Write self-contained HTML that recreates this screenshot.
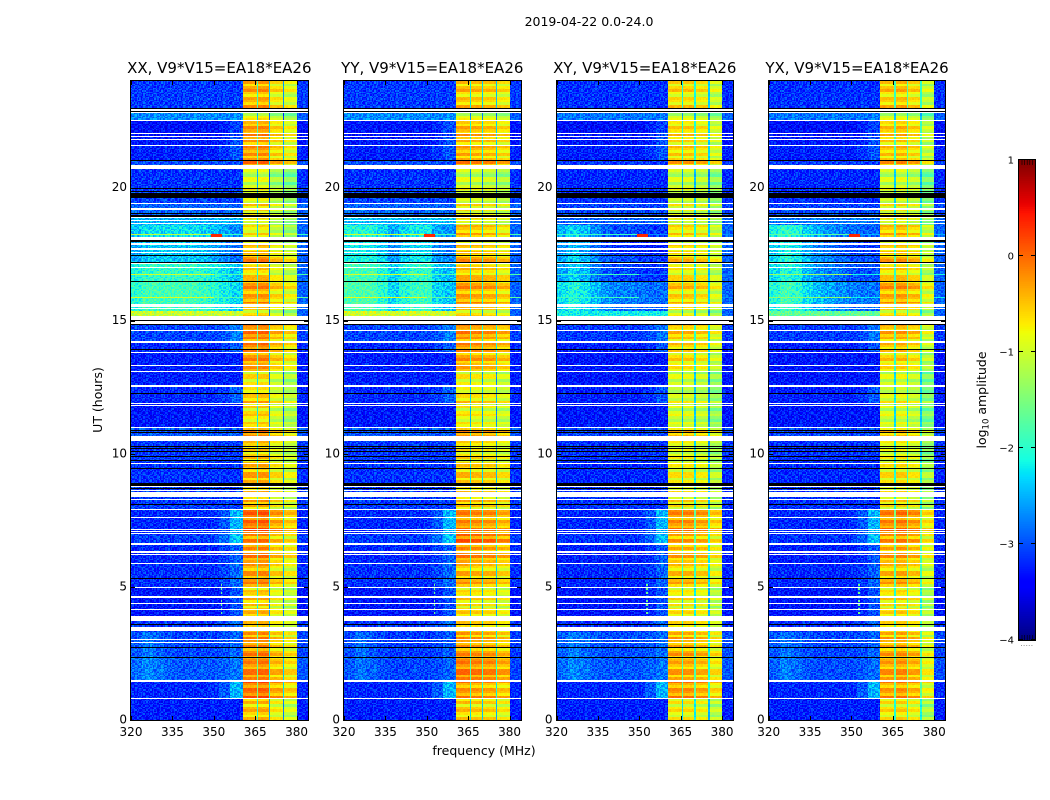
<!DOCTYPE html>
<html><head><meta charset="utf-8"><title>2019-04-22 amplitude waterfall</title>
<style>html,body{margin:0;padding:0;background:#fff}svg{display:block}text{font-family:"DejaVu Sans","Liberation Sans",sans-serif;fill:#000}</style>
</head><body>
<svg id="fig" xmlns="http://www.w3.org/2000/svg" width="1050" height="800" viewBox="0 0 1050 800">
<text x="589" y="26" font-size="12.5" text-anchor="middle">2019-04-22 0.0-24.0</text>
<text x="484" y="755" font-size="12.5" text-anchor="middle">frequency (MHz)</text>
<text x="102" y="400" font-size="12.5" text-anchor="middle" transform="rotate(-90 102 400)">UT (hours)</text>
<text x="986" y="400" font-size="12.5" text-anchor="middle" transform="rotate(-90 986 400)">log<tspan font-size="8.5" dy="2.5">10</tspan><tspan dy="-2.5"> amplitude</tspan></text>
</svg>
<script>
// ---- data (UT hours, MHz, log10 amplitude) ----
const freqTicks = [320, 335, 350, 365, 380];
const utTicks = [0, 5, 10, 15, 20];
const colorbarTicks = [1, 0, -1, -2, -3, -4];
const colorbarMinor = [-3.98, -3.94, -3.9, -3.86, -3.82];
const panelTitles = ['XX, V9*V15=EA18*EA26', 'YY, V9*V15=EA18*EA26', 'XY, V9*V15=EA18*EA26', 'YX, V9*V15=EA18*EA26'];

const blockEdges = [24, 23, 22.5, 22.05, 21.55, 21, 20.7, 19.95, 19.4, 18.9, 18.6, 18.15, 17.5, 17.2, 16.5, 15.65, 15.35, 15, 14.85, 14.25, 13.8, 13.1, 12.5, 11.85, 11, 10.5, 9.7, 8.9, 7.9, 7, 6.6, 5.9, 5, 3.9, 3.3, 2.4, 1.45, 0.8, 0];
const blockShape = [0, 0, 1, 1, 1, 0, 0, 0, 0, 0, 2, 2, 2, 2, 2, 2, 0, 0, 1, 1, 0, 0, 1, 0, 0, 0, 0, 0, 4, 4, 1, 1, 1, 1, 3, 3, 4, 0];

const lowXX = [-3.1, -2.7, -3.35, -3.3, -3.25, -3.0, -3.15, -3.05, -2.9, -2.5, -2.25, -2.4, -2.4, -1.95, -1.85, -1.9, -1.05, -3, -3.05, -3.2, -3.25, -3.25, -3.2, -3.3, -2.95, -3.1, -3.15, -3.1, -3.2, -3.1, -3.2, -3.15, -3.3, -3.1, -3.05, -2.95, -3.2, -3.25];
const lowYY = [-3.1, -2.7, -3.3, -3.3, -3.25, -3.0, -3.15, -3.05, -2.9, -2.45, -2.05, -2.2, -2.1, -1.85, -1.8, -1.8, -1.0, -3, -3.05, -3.2, -3.25, -3.25, -3.2, -3.3, -2.95, -3.1, -3.15, -3.1, -3.2, -3.1, -3.2, -3.15, -3.3, -3.1, -3.1, -3.05, -3.2, -3.25];
const lowXY = [-3.15, -2.8, -3.35, -3.3, -3.25, -3.1, -3.2, -3.15, -3.05, -2.9, -2.7, -2.85, -2.7, -2.75, -2.45, -2.5, -2.15, -3, -3.1, -3.25, -3.3, -3.3, -3.25, -3.3, -3.05, -3.15, -3.2, -3.15, -3.2, -3.15, -3.25, -3.2, -3.3, -3.15, -3.0, -2.95, -3.2, -3.25];
const lowYX = [-3.15, -2.8, -3.35, -3.3, -3.25, -3.1, -3.2, -3.15, -3.05, -2.8, -2.5, -2.7, -2.6, -2.6, -2.4, -2.45, -1.65, -3, -3.1, -3.25, -3.3, -3.3, -3.25, -3.3, -3.05, -3.15, -3.2, -3.15, -3.2, -3.15, -3.25, -3.2, -3.3, -3.15, -3.05, -3.0, -3.2, -3.25];

const highXX = [-0.45, -0.9, -0.35, -0.35, -0.35, -0.25, -1.0, -0.85, -0.7, -0.85, -0.8, -0.6, -0.35, -0.6, -0.35, -0.7, -0.75, -0.5, -0.25, -0.25, -0.35, -0.75, -0.55, -0.7, -0.3, -0.65, -0.45, -0.5, -0.1, -0.25, -0.3, -0.35, -0.6, -0.4, -0.3, -0.2, -0.1, -0.55];
const highYY = [-0.55, -0.95, -0.45, -0.45, -0.45, -0.3, -1.0, -0.9, -0.75, -0.75, -0.5, -0.55, -0.4, -0.5, -0.35, -0.6, -0.7, -0.5, -0.3, -0.3, -0.4, -0.8, -0.65, -0.8, -0.35, -0.75, -0.55, -0.55, -0.25, -0.05, -0.3, -0.45, -0.7, -0.45, -0.35, -0.15, -0.3, -0.6];
const highXY = [-0.7, -1.05, -0.65, -0.65, -0.65, -0.5, -1.05, -1.0, -0.9, -0.9, -0.7, -0.75, -0.6, -0.75, -0.6, -0.85, -0.95, -0.7, -0.6, -0.65, -0.75, -1.0, -0.95, -1.0, -0.55, -0.95, -0.8, -0.75, -0.3, -0.4, -0.5, -0.55, -0.8, -0.55, -0.45, -0.4, -0.3, -0.8];
const highYX = [-0.6, -1.05, -0.55, -0.6, -0.6, -0.45, -1.05, -1.0, -0.85, -0.85, -0.55, -0.65, -0.5, -0.65, -0.4, -0.75, -0.8, -0.7, -0.5, -0.6, -0.7, -1.0, -0.9, -1.0, -0.6, -0.95, -0.75, -0.75, -0.25, -0.3, -0.45, -0.5, -0.75, -0.55, -0.45, -0.35, -0.35, -0.75];

// low-band spectral shape: offsets in 4 MHz bins from 320 to 360 MHz
const shapeFlat = [0, 0, 0, 0, 0, 0, 0, 0, 0, 0];
const shapeEdge = [0, 0, 0, 0, 0, 0, 0, 0, 0.1, 0.3];
const shapeStrongEdge = [0, 0, 0, 0, 0, 0, 0, 0.05, 0.25, 0.7];
const shapeLeft = [0.1, 0.25, 0.15, 0.05, 0, 0, 0, 0, 0.05, 0.15];
const dayXX = [-0.15, 0, 0, 0, 0, 0, -0.05, -0.15, -0.3, -0.45];
const dayYY = [0, 0, 0, -0.2, -0.5, -0.25, -0.1, -0.1, -0.5, -0.6];
const dayXY = [0.2, 0.4, 0.25, 0, -0.2, -0.3, -0.3, -0.35, -0.4, -0.4];
const dayYX = [0.35, 0.55, 0.45, 0.15, -0.05, -0.15, -0.25, -0.35, -0.4, -0.4];

// high-band channel offsets: edges in MHz and offset per panel
const bandEdges = [360.5, 365.5, 366, 370, 370.5, 375, 375.5, 380];
const channelXX = [0, -1.5, 0.05, -2.0, -0.3, -2.2, -0.5];
const channelYY = [0, -1.7, -0.05, -1.8, -0.1, -1.9, -0.25];
const channelXY = [0, -1.5, 0.0, -1.4, -0.1, -1.7, -0.35];
const channelYX = [0, -1.3, 0.05, -1.2, -0.1, -1.4, -0.5];

// flagged integrations [top UT, bottom UT]
const whiteRows = [[22.95,22.89],[22.84,22.80],[22.55,22.52],[22.05,22.01],[21.92,21.88],[21.82,21.78],[21.58,21.54],[20.85,20.69],[19.42,19.38],[19.23,19.15],[18.89,18.85],[18.78,18.74],[18.67,18.63],[18.14,18.03],[17.92,17.84],[17.71,17.67],[17.58,17.54],[17.16,17.13],[17.03,17.0],[15.64,15.61],[15.57,15.53],[15.47,15.44],[15.17,15.02],[14.99,14.87],[14.65,14.61],[14.25,14.22],[14.21,14.17],[13.82,13.78],[13.33,13.31],[13.11,13.07],[12.58,12.54],[12.53,12.49],[11.91,11.87],[11.83,11.79],[11.0,10.97],[10.67,10.48],[9.67,9.63],[8.79,8.75],[8.64,8.60],[8.56,8.38],[8.30,8.26],[7.92,7.89],[7.62,7.59],[7.17,7.14],[7.11,7.07],[7.04,7.0],[6.65,6.57],[6.33,6.29],[6.22,6.18],[5.90,5.86],[5.01,4.98],[4.64,4.60],[4.39,4.36],[4.17,4.13],[3.89,3.72],[3.49,3.34],[3.06,3.02],[2.93,2.89],[1.50,1.43],[0.83,0.79]];
const blackRows = [[22.99,22.95],[22.89,22.86],[21.05,20.98],[19.97,19.94],[19.86,19.83],[19.79,19.61],[19.06,19.02],[18.95,18.91],[18.01,17.97],[17.48,17.45],[17.22,17.18],[16.49,16.45],[15.02,14.99],[14.87,14.84],[13.92,13.88],[12.28,12.24],[10.89,10.85],[10.82,10.78],[10.29,10.25],[10.22,10.18],[10.10,10.07],[9.90,9.86],[9.75,9.71],[9.48,9.45],[8.92,8.79],[8.71,8.68],[8.11,8.08],[5.33,5.30],[3.59,3.55],[2.76,2.72],[2.38,2.35]];

// integrations with elevated low band [top UT, bottom UT], level per panel
const hotRows = [[18.52,18.48],[18.24,18.19],[16.76,16.72],[15.90,15.86]];
const hotXX = [-1.2, -1.1, -1.0, -0.95];
const hotYY = [-1.1, -1.0, -0.95, -0.9];
const hotXY = [-2.0, -1.9, -1.9, -1.9];
const hotYX = [-1.8, -1.7, -1.3, -1.4];

// narrow RFI [f0, f1, top UT, bottom UT, level]
const rfiSpikes = [[349, 353, 18.24, 18.17, 0.35], [352.5, 353, 5.2, 4.0, -1.6]];

// fine per-integration gain ripple for the high band (every 0.1 h)
const rowRipple = [0.2,-0.25,0.1,0.3,-0.1,-0.3,0.15,0.05,-0.2,0.3,-0.15,0.2,-0.3,0.1,0.25,-0.05,-0.25,0.2,0,-0.2,0.3,-0.1,0.15,-0.3,0.25,0.05,-0.15,0.2,-0.25,0.1,0.3,-0.2,0,0.15,-0.1,-0.3,0.2];
// thermal speckle tile (digits 0-9)
const speckle = ["31748205916372840591628374951","82059374612890357146029583716","46913072585146928037561492038","70285619437205814693072851649","15943860271598432061785934206","93607128454760219853641027598","28471596030815647392805164739","64138250979324106587219340865","07592683141968753420698517324","51860347298403126975341086297","39216754080657492381506724913","86403921572134860579263891045","12759460383792105648917325608","95328071646580341927086154792","40617893259216874305162978340","73945102680459123768350246915","28160734597381069452713890264","61493857024657238106485912370","04827516398120945763298057431","57316940285496701328514769820","92058361471365298074906135687","36741289050842613957128460359","80295673142179560438237591046"];

// ---- scales and layout ----
const panelLefts = [131, 344, 556.5, 768.7];
const plotWidth = 176.6, plotTop = 81, plotBottom = 720;
const cbLeft = 1019, cbRight = 1035, cbTop = 160, cbBottom = 640;
const NS = 'http://www.w3.org/2000/svg';
const fig = document.getElementById('fig');
function xScale(left, f) { return left + (f - 320) * plotWidth / 64; }
function yScale(t) { return plotBottom - t * (plotBottom - plotTop) / 24; }
function cbScale(v) { return cbBottom - (v + 4) * (cbBottom - cbTop) / 5; }
function ramp(x, pts) {
  for (let i = 1; i < pts.length; i++) {
    if (x <= pts[i][0]) { const a = pts[i - 1], b = pts[i]; return a[1] + (b[1] - a[1]) * (x - a[0]) / (b[0] - a[0]); }
  }
  return pts[pts.length - 1][1];
}
function jet(n) {
  const r = ramp(n, [[0,0],[0.35,0],[0.66,1],[0.89,1],[1,0.5]]);
  const g = ramp(n, [[0,0],[0.125,0],[0.375,1],[0.64,1],[0.91,0],[1,0]]);
  const b = ramp(n, [[0,0.5],[0.11,1],[0.34,1],[0.65,0],[1,0]]);
  return 'rgb(' + Math.round(r * 255) + ',' + Math.round(g * 255) + ',' + Math.round(b * 255) + ')';
}
function mk(tag, attrs, parent) {
  const e = document.createElementNS(NS, tag);
  for (const k in attrs) e.setAttribute(k, attrs[k]);
  (parent || fig).appendChild(e);
  return e;
}
function blockIndex(t) {
  for (let i = 0; i < blockEdges.length - 1; i++) if (t <= blockEdges[i] && t > blockEdges[i + 1]) return i;
  return blockEdges.length - 2;
}
function lowBin(f) { return Math.min(9, Math.floor((f - 320) / 4)); }

const lowSeries = [lowXX, lowYY, lowXY, lowYX];
const highSeries = [highXX, highYY, highXY, highYX];
const daySeries = [dayXX, dayYY, dayXY, dayYX];
const channelSeries = [channelXX, channelYY, channelXY, channelYX];
const hotSeries = [hotXX, hotYY, hotXY, hotYX];
const LEVELS = 96, DF = 0.5, DT = 0.05;

function cellValue(p, t, f, rowIdx, colIdx) {
  const b = blockIndex(t);
  const tile = speckle[rowIdx % speckle.length];
  const shift = Math.floor(rowIdx / speckle.length) * 11;
  const g = (+tile[(colIdx + shift) % tile.length] - 4.5) / 4.5;
  for (const s of rfiSpikes) {
    if (f >= s[0] && f < s[1] && t <= s[2] && t > s[3] && (s[3] < 10 ? rowIdx % 3 === 0 : true)) return s[4];
  }
  if (f >= bandEdges[0] && f < bandEdges[bandEdges.length - 1]) {
    let seg = 0;
    for (let i = 0; i < bandEdges.length - 1; i++) if (f >= bandEdges[i] && f < bandEdges[i + 1]) seg = i;
    const ripple = rowRipple[Math.floor(rowIdx / 2) % rowRipple.length];
    const rippleAmp = (seg % 2 === 0) ? 1 : 0.25;
    return highSeries[p][b] + channelSeries[p][seg] + ripple * rippleAmp + g * 0.06;
  }
  let base = lowSeries[p][b];
  for (let i = 0; i < hotRows.length; i++) {
    if (t <= hotRows[i][0] && t > hotRows[i][1]) return hotSeries[p][i] + g * 0.1 - (f > 350 ? 0.8 : 0);
  }
  if (f >= 380) return Math.min(base, -2.9) + g * 0.25;
  const kind = blockShape[b];
  const shape = kind === 2 ? daySeries[p] : kind === 1 ? shapeEdge : kind === 3 ? shapeLeft : kind === 4 ? shapeStrongEdge : shapeFlat;
  return base + shape[lowBin(f)] + g * 0.3;
}

panelTitles.forEach(function (title, p) {
  const left = panelLefts[p];
  const frameLeft = Math.round(left);
  const frameRight = Math.round(left + plotWidth);
  const g = mk('g', {});
  
  
  const buckets = [];
  for (let i = 0; i < LEVELS; i++) buckets.push([]);
  const nRows = Math.round(24 / DT), nCols = Math.round(64 / DF);
  for (let r = 0; r < nRows; r++) {
    const tTop = 24 - r * DT;
    const y0 = Math.round(yScale(tTop)), y1 = Math.round(yScale(tTop - DT));
    if (y1 <= y0) continue;
    for (let c = 0; c < nCols; c++) {
      const f = 320 + c * DF;
      const x0 = Math.round(xScale(left, f)), x1 = Math.round(xScale(left, f + DF));
      const v = cellValue(p, tTop - DT / 2, f + DF / 2, r, c);
      const n = Math.max(0, Math.min(1, (v + 4) / 5));
      const lvl = Math.min(LEVELS - 1, Math.floor(n * LEVELS));
      buckets[lvl].push('M' + x0 + ' ' + y0 + 'h' + (x1 - x0) + 'v' + (y1 - y0) + 'h' + (x0 - x1) + 'z');
    }
  }
  const hm = mk('g', { 'shape-rendering': 'crispEdges' }, g);
  
  
  buckets.forEach(function (cells, lvl) {
    if (!cells.length) return;
    const path = mk('path', { d: cells.join(''), fill: jet((lvl + 0.5) / LEVELS) }, hm);
    
    
  });
  whiteRows.forEach(function (row) {
    const y0 = Math.round(yScale(row[0]));
    const band = mk('rect', { x: frameLeft, y: y0, width: frameRight - frameLeft, height: Math.max(1, Math.round(yScale(row[1])) - y0), fill: '#fff', 'shape-rendering': 'crispEdges' }, g);
    
    
  });
  blackRows.forEach(function (row) {
    const y0 = Math.round(yScale(row[0]));
    const band = mk('rect', { x: frameLeft, y: y0, width: frameRight - frameLeft, height: Math.max(1, Math.round(yScale(row[1])) - y0), fill: '#000', 'shape-rendering': 'crispEdges' }, g);
    
    
  });
  const frame = mk('rect', { x: frameLeft - 0.5, y: plotTop - 0.5, width: frameRight - frameLeft + 1, height: plotBottom - plotTop + 1, fill: 'none', stroke: '#000', 'stroke-width': 1 }, g);
  
  
  const tt = mk('text', { x: left + plotWidth / 2, y: 73, 'font-size': 15, 'text-anchor': 'middle' }, g);
  tt.textContent = title;
  
  
  freqTicks.forEach(function (f) {
    const x = Math.round(xScale(left, f)) + 0.5;
    const t1 = mk('path', { d: 'M' + x + ' ' + plotBottom + 'v-4M' + x + ' ' + plotTop + 'v4', stroke: '#000', fill: 'none' }, g);
    
    
    const lab = mk('text', { x: xScale(left, f), y: 736, 'font-size': 12, 'text-anchor': 'middle' }, g);
    lab.textContent = String(f);
    
    
  });
  utTicks.forEach(function (t) {
    const y = Math.round(yScale(t)) + 0.5;
    const t1 = mk('path', { d: 'M' + frameLeft + ' ' + y + 'h4M' + frameRight + ' ' + y + 'h-4', stroke: '#000', fill: 'none' }, g);
    
    
    const lab = mk('text', { x: left - 4, y: yScale(t) + 3.5, 'font-size': 12, 'text-anchor': 'end' }, g);
    lab.textContent = String(t);
    
    
  });
});

// ---- colorbar ----
const cb = mk('g', {});


for (let i = 0; i < 256; i++) {
  const v0 = -4 + 5 * i / 256, v1 = -4 + 5 * (i + 1) / 256;
  const seg = mk('rect', { x: cbLeft, y: cbScale(v1), width: cbRight - cbLeft, height: cbScale(v0) - cbScale(v1) + 0.3, fill: jet((i + 0.5) / 256), 'shape-rendering': 'crispEdges' }, cb);
  
  
}
const cbFrame = mk('rect', { x: cbLeft - 0.5, y: cbTop - 0.5, width: cbRight - cbLeft + 1, height: cbBottom - cbTop + 1, fill: 'none', stroke: '#000' }, cb);


colorbarTicks.forEach(function (v) {
  const y = Math.round(cbScale(v)) - 0.5;
  const tick = mk('path', { d: 'M' + cbLeft + ' ' + y + 'h4M' + cbRight + ' ' + y + 'h-4', stroke: '#000', fill: 'none' }, cb);
  
  
  const lab = mk('text', { x: cbLeft - 5, y: cbScale(v) + 3.5, 'font-size': 10, 'text-anchor': 'end' }, cb);
  lab.textContent = String(v).replace('-', '\u2212');
  
  
});
colorbarMinor.forEach(function (v, i) {
  const x = cbLeft + 3 + i * 2.6;
  const low = mk('path', { d: 'M' + x + ' ' + cbBottom + 'v-5', stroke: '#000', 'stroke-width': 0.6, fill: 'none' }, cb);
  
  
  const high = mk('path', { d: 'M' + x + ' ' + cbTop + 'v5', stroke: '#000', 'stroke-width': 0.6, fill: 'none' }, cb);
  
  
  const dot = mk('rect', { x: x - 1, y: 645, width: 1, height: 1, fill: '#999' }, cb);
  
  
});
</script>
</body></html>
